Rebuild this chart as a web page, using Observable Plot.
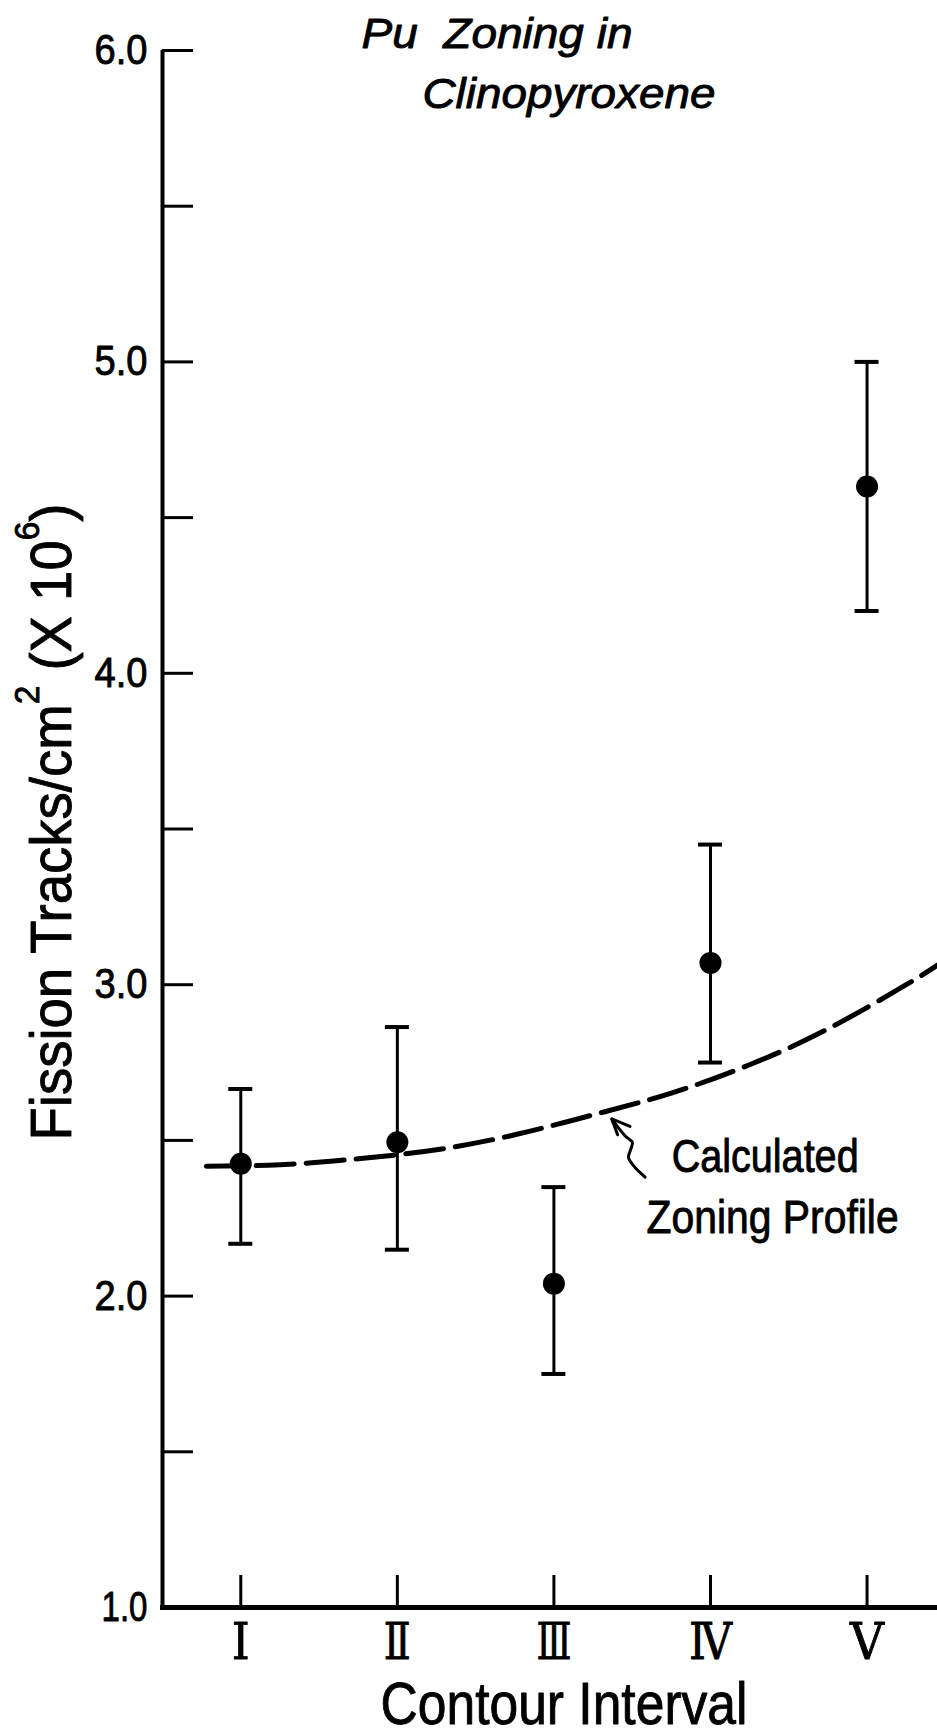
<!DOCTYPE html>
<html><head><meta charset="utf-8">
<script src="https://cdn.jsdelivr.net/npm/d3@7"></script>
<script src="https://cdn.jsdelivr.net/npm/@observablehq/plot@0.6"></script>
<style>
body{margin:0;background:#fff;}
#chart svg{display:block;}
#chart svg text{stroke:#000;stroke-width:0.9px;stroke-linejoin:round;}
</style>
</head><body><div id="chart"></div>
<script>
// ---- data ----
const intervals = [1, 2, 3, 4, 5];
const intervalLabels = ["Ⅰ", "Ⅱ", "Ⅲ", "Ⅳ", "Ⅴ"];
const trackDensity = [2.425, 2.494, 2.04, 3.07, 4.60];
const errLow = [2.168, 2.149, 1.75, 2.75, 4.20];
const errHigh = [2.665, 2.864, 2.35, 3.45, 5.00];

const profileX = [0.78, 1.25, 1.75, 2.25, 2.75, 3.25, 3.75, 4.25, 4.75, 5.25, 5.45];
const profileY = [2.417, 2.422, 2.441, 2.47, 2.518, 2.582, 2.652, 2.743, 2.858, 3.0, 3.063];

const yTickValues = [1.5, 2, 2.5, 3, 3.5, 4, 4.5, 5, 5.5, 6];
const yLabelValues = [1, 2, 3, 4, 5, 6];

// annotation arrow (squiggly shaft and open arrowhead), in data units
const arrowShaftX = [3.369, 3.454, 3.501, 3.490, 3.476, 3.508, 3.582];
const arrowShaftY = [2.569, 2.515, 2.494, 2.470, 2.446, 2.419, 2.382];
const arrowHeadX = [3.486, 3.369, 3.407];
const arrowHeadY = [2.545, 2.569, 2.518];

const titleLines = ["Pu\u00a0 Zoning in", "Clinopyroxene"];
const annotationLines = ["Calculated", "Zoning Profile"];
const annotationX = [3.752, 3.592];
const annotationY = [2.397, 2.204];
const xTitle = "Contour Interval";
const yTitle = "Fission Tracks/cm² (X 10⁶)";
const yTitleParts = [["Fission Tracks/cm", false], ["2", true], [" (X 10", false], ["6", true], [")", false]];

// ---- build ----
const points = intervals.map((x, i) => ({x, y: trackDensity[i], lo: errLow[i], hi: errHigh[i]}));
const profile = profileX.map((x, i) => ({x, y: profileY[i]}));
const arrowShaft = arrowShaftX.map((x, i) => ({x, y: arrowShaftY[i]}));
const arrowHead = arrowHeadX.map((x, i) => ({x, y: arrowHeadY[i]}));
const annotations = annotationLines.map((t, i) => ({t, x: annotationX[i], y: annotationY[i]}));

const sans = '"Liberation Sans",Arial,sans-serif';
const serif = '"DejaVu Serif","Liberation Serif",serif';

const chart = Plot.plot({
  width: 937,
  height: 1736,
  marginLeft: 162,
  marginRight: 0,
  marginTop: 50,
  marginBottom: 129,
  x: {domain: [0.5, 5.45], axis: null},
  y: {domain: [1, 6], axis: null},
  style: {background: "white", color: "black", overflow: "visible"},
  marks: [
    Plot.axisY(yTickValues, {tickSize: 31, dx: 31, tickFormat: () => "", strokeWidth: 3, label: null}),
    Plot.axisY(yLabelValues, {tickSize: 0, tickPadding: 15, tickFormat: d => d.toFixed(1), fontSize: 42, fontFamily: sans, label: null}),
    Plot.axisX(intervals, {tickSize: 32, dy: -32, tickFormat: () => "", strokeWidth: 3, label: null}),
    Plot.axisX(intervals, {tickSize: 0, tickPadding: 15, tickFormat: i => intervalLabels[i - 1], fontSize: 51, fontFamily: serif, label: null}),
    Plot.ruleX([0.5], {strokeWidth: 4}),
    Plot.ruleY([1], {strokeWidth: 5, insetLeft: -2}),
    Plot.line(profile, {x: "x", y: "y", curve: "natural", stroke: "black", strokeWidth: 5, strokeDasharray: "38,12"}),
    Plot.ruleX(points, {x: "x", y1: "lo", y2: "hi", strokeWidth: 3}),
    Plot.ruleY(points, {y: "hi", x1: "x", x2: "x", insetLeft: -12, insetRight: -12, strokeWidth: 4}),
    Plot.ruleY(points, {y: "lo", x1: "x", x2: "x", insetLeft: -12, insetRight: -12, strokeWidth: 4}),
    Plot.dot(points, {x: "x", y: "y", r: 11, fill: "black", stroke: null}),
    Plot.line(arrowShaft, {x: "x", y: "y", curve: "catmull-rom", stroke: "black", strokeWidth: 3}),
    Plot.line(arrowHead, {x: "x", y: "y", stroke: "black", strokeWidth: 3, strokeLinejoin: "miter"}),
    Plot.text(annotations, {x: "x", y: "y", text: "t", textAnchor: "start", lineAnchor: "bottom", fontSize: 47, fontFamily: sans}),
    Plot.text([titleLines[0]], {frameAnchor: "top-left", dx: 199, dy: -3, textAnchor: "start", lineAnchor: "bottom", fontSize: 43, fontStyle: "italic", fontFamily: sans}),
    Plot.text([titleLines[1]], {frameAnchor: "top-left", dx: 260, dy: 57, textAnchor: "start", lineAnchor: "bottom", fontSize: 43, fontStyle: "italic", fontFamily: sans}),
    Plot.text([xTitle], {frameAnchor: "bottom", dx: 14, dy: 116, textAnchor: "middle", lineAnchor: "bottom", fontSize: 60, fontFamily: sans}),
    Plot.text([yTitle], {frameAnchor: "left", rotate: -90, dx: -92, dy: -7, textAnchor: "middle", lineAnchor: "bottom", fontSize: 57, fontFamily: sans})
  ]
});

// condense texts to the lettering widths of the original drawing
const fitWidths = new Map([
  [xTitle, 367], ["Calculated", 187], ["Zoning Profile", 252],
  [titleLines[0], 271], [titleLines[1], 293], [yTitle, 637],
  ["1.0", 46], ["2.0", 53], ["3.0", 53], ["4.0", 53], ["5.0", 53], ["6.0", 53],
  ["Ⅰ", 18], ["Ⅱ", 27], ["Ⅲ", 35], ["Ⅳ", 43], ["Ⅴ", 34]
]);
d3.select(chart).selectAll("text").each(function() {
  const t = this.textContent;
  const w = fitWidths.get(t);
  if (t === yTitle) {
    const sel = d3.select(this);
    sel.text(null);
    let raised = false;
    for (const [s, sup] of yTitleParts) {
      const ts = sel.append("tspan").text(s);
      if (sup && !raised) { ts.attr("dy", -32).attr("font-size", 35); raised = true; }
      else if (sup) { ts.attr("font-size", 35); }
      else if (raised) { ts.attr("dy", 32); raised = false; }
    }
  }
  if (w) {
    this.setAttribute("textLength", w);
    this.setAttribute("lengthAdjust", "spacingAndGlyphs");
  }
});
document.getElementById("chart").appendChild(chart);
</script>
</body></html>
